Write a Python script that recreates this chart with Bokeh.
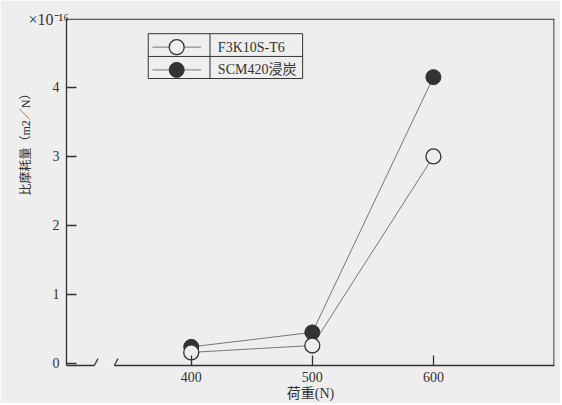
import math
from bokeh.plotting import figure
from bokeh.models import Range1d, FixedTicker, Arrow, Label, Span, Title
from bokeh.embed import file_html
from bokeh.resources import INLINE

# ---- data ----
loads = [400, 500, 600]
f3k = [0.16, 0.26, 3.0]        # F3K10S-T6  (x1e-16 m2/N)
scm = [0.24, 0.45, 4.15]       # SCM420浸炭
series_names = ["F3K10S-T6", "SCM420浸炭"]
x_ticks = [400, 500, 600]
y_ticks = [0, 1, 2, 3, 4]

# ---- style ----
BG = "#eeeeee"
INK = "#333333"
FONT = "Liberation Serif, Noto Sans CJK JP"
X0, X1 = 297, 700
Y0, Y1 = -0.03, 5.0

p = figure(width=560, height=403, output_backend="svg", toolbar_location=None,
           x_range=Range1d(X0, X1), y_range=Range1d(Y0, Y1),
           min_border_left=65, min_border_right=6, min_border_top=18, min_border_bottom=38)
p.background_fill_color = BG
p.border_fill_color = BG
p.outline_line_color = None
p.grid.visible = False

for ax in (p.xaxis[0], p.yaxis[0]):
    ax.major_tick_in = 10
    ax.major_tick_out = 0
    ax.minor_tick_line_color = None
    ax.major_tick_line_color = INK
    ax.major_tick_line_width = 1.3
    ax.axis_line_color = INK
    ax.axis_line_width = 1.3
    ax.major_label_text_font = FONT
    ax.major_label_text_font_size = "14px"
    ax.major_label_text_color = INK
p.xaxis[0].ticker = FixedTicker(ticks=x_ticks)
p.yaxis[0].ticker = FixedTicker(ticks=y_ticks)
p.xaxis[0].major_label_standoff = 6
p.yaxis[0].major_label_standoff = 7
# broken bottom axis line
p.xaxis[0].axis_line_dash = "28 20 600"
p.xaxis[0].axis_label = "荷重(N)"
p.xaxis[0].axis_label_text_font = FONT
p.xaxis[0].axis_label_text_font_size = "14px"
p.xaxis[0].axis_label_text_font_style = "normal"
p.xaxis[0].axis_label_text_color = INK
p.xaxis[0].axis_label_standoff = 1

# top and right frame lines
p.add_layout(Span(location=Y1 - 0.008, dimension="width", line_color=INK, line_width=1.3))
p.add_layout(Span(location=X1 - 0.4, dimension="height", line_color=INK, line_width=1.3))

# axis break slashes
brk1, brk2 = 320, 336.5
for xb in (brk1, brk2):
    p.add_layout(Arrow(end=None, x_start=xb - 3.0, y_start=Y0 - 0.1, x_end=xb + 3.0, y_end=Y0 + 0.1,
                       line_color=INK, line_width=1.2))

# data lines and markers
p.line(loads, scm, line_color="#777777", line_width=1)
p.line(loads, f3k, line_color="#777777", line_width=1)
p.scatter(loads, scm, size=15, fill_color=INK, line_color=INK, line_width=1)
p.scatter(loads, f3k, size=15, fill_color=BG, line_color=INK, line_width=1.3)

# legend as table
lx0, lx1, ldiv = 364.5, 492, 415.5
ly0, ly1, lmid = 4.13, 4.78, 4.45
rows = [4.585, 4.255]
p.quad(left=[lx0], right=[lx1], bottom=[ly0], top=[ly1], fill_color=None, line_color=INK, line_width=1)
p.segment(x0=[ldiv, lx0], y0=[ly0, lmid], x1=[ldiv, lx1], y1=[ly1, lmid], line_color=INK, line_width=1)
p.segment(x0=[368, 368], y0=rows, x1=[408, 408], y1=rows, line_color="#777777", line_width=1)
p.scatter([388], [rows[0]], size=15, fill_color=BG, line_color=INK, line_width=1.3)
p.scatter([388], [rows[1]], size=15, fill_color=INK, line_color=INK, line_width=1)
for name, ry in zip(series_names, rows):
    p.add_layout(Label(x=422, y=ry, text=name, text_font=FONT, text_font_size="14px",
                       text_color=INK, text_baseline="middle"))

# y title and scale factor
p.add_layout(Title(text="比摩耗量（m2／N）", align="right", offset=69, text_font=FONT,
                   text_font_size="12px", text_font_style="normal", text_color=INK, standoff=33), "left")
p.add_layout(Title(text="×10⁻¹⁶", align="left", offset=-38, text_font=FONT,
                   text_font_size="16px", text_font_style="normal", text_color=INK, standoff=-18), "above")

open("out.html", "w").write(file_html(p, INLINE))
